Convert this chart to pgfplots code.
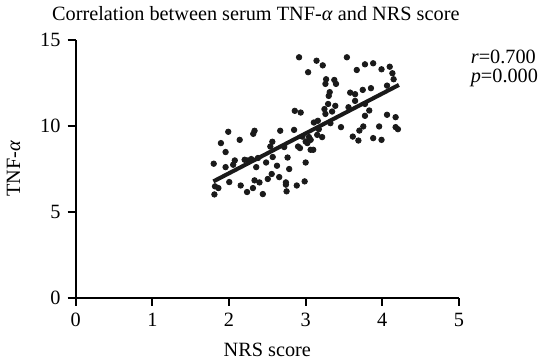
\documentclass[border=0pt]{standalone}
\usepackage{fontspec}
\setmainfont{Liberation Serif}
\usepackage{pgfplots}
\pgfplotsset{compat=1.18}
\definecolor{dotc}{HTML}{1A1A1A}
\begin{document}
\begin{tikzpicture}
\begin{axis}[
  scale only axis,
  width=189pt, height=127pt,
  xmin=0, xmax=5, ymin=0, ymax=15,
  axis x line*=bottom, axis y line*=left,
  axis line style={line width=1pt},
  xtick={0,1,2,3,4,5}, ytick={0,5,10,15},
  tick align=outside, tick style={line width=1pt, black},
  major tick length=4pt,
  /pgf/number format/assume math mode=true,
  tick label style={font=\fontsize{10}{12}\selectfont},
  label style={font=\fontsize{10}{12}\selectfont},
  xlabel={NRS score},
  xlabel style={yshift=-1.5pt},
  ylabel={TNF-\textit{α}},
  ylabel style={yshift=3pt},
  clip=false,
]
\addplot[only marks, mark=*, mark size=1.35pt, dotc, mark options={draw=dotc, fill=dotc}] coordinates {
(2.914,14.00) (2.858,10.88) (2.935,10.78) (1.990,9.66) (2.333,9.72) (2.316,9.54)
(2.668,9.72) (2.849,9.77) (1.894,9.00) (2.139,9.19) (1.955,8.48) (2.565,9.08)
(2.539,8.80) (2.720,8.77) (2.901,8.80) (2.926,8.71) (1.800,7.80) (1.955,7.60)
(2.054,7.74) (2.075,7.99) (2.248,7.99) (2.290,8.07) (2.377,8.13) (2.355,7.60)
(2.484,7.87) (2.570,8.19) (2.764,8.16) (2.626,7.68) (2.785,7.49) (1.817,6.48)
(1.861,6.38) (2.003,6.73) (2.152,6.53) (2.333,6.83) (2.397,6.71) (2.506,6.91)
(2.557,7.20) (2.655,7.02) (2.742,6.71) (2.742,6.58) (2.884,6.53) (1.809,6.01)
(2.235,6.15) (2.312,6.38) (2.441,6.03) (2.751,6.19) (3.142,13.80) (3.223,13.53)
(3.538,14.00) (3.032,13.13) (3.667,13.26) (3.774,13.59) (3.881,13.65) (3.990,13.30)
(4.097,13.45) (4.132,13.07) (4.148,12.72) (4.062,12.35) (3.267,12.72) (3.258,12.45)
(3.374,12.68) (3.396,12.45) (3.314,11.97) (3.301,11.75) (3.581,11.94) (3.645,11.85)
(3.745,12.10) (3.852,12.20) (3.293,11.28) (3.245,10.98) (3.345,10.84) (3.258,10.70)
(3.387,11.17) (3.559,11.09) (3.645,11.46) (3.774,11.28) (3.830,10.90) (3.774,10.59)
(4.062,10.65) (4.174,10.51) (3.107,10.20) (3.159,10.30) (3.172,9.81) (3.323,10.16)
(3.461,9.93) (3.752,9.97) (3.701,9.73) (3.959,9.97) (4.174,9.93) (4.204,9.81)
(3.615,9.38) (3.688,9.15) (3.881,9.29) (3.990,9.19) (3.215,9.35) (3.043,9.35)
(3.065,9.19) (2.957,9.38) (3.000,9.09) (3.022,9.00) (3.065,8.61) (3.099,8.61)
(3.000,7.87) (2.987,6.77) (3.151,9.48) (2.204,8.03)
};
\addplot[line width=2pt, dotc] coordinates {(1.796,6.77) (4.217,12.39)};
\node[anchor=base, font=\fontsize{10}{12}\selectfont] at (rel axis cs:0.47,1.075) {Correlation between serum TNF-\textit{α} and NRS score};
\node[anchor=west, align=left, font=\fontsize{10}{10.5}\selectfont, inner sep=0pt] at (rel axis cs:1.03,0.89) {\textit{r}=0.700\\[-1pt]\textit{p}=0.000};
\end{axis}
\end{tikzpicture}
\end{document}
